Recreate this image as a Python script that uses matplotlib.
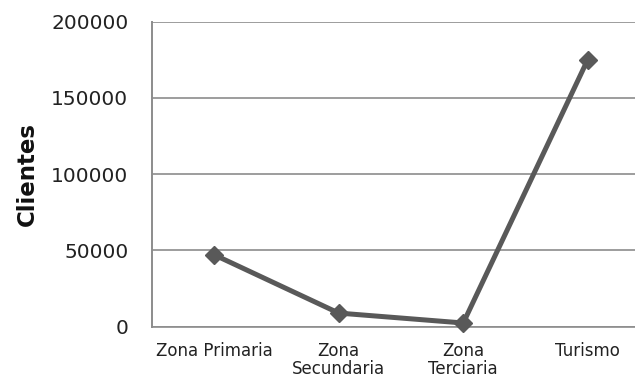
import matplotlib.pyplot as plt

zonas = ['Zona Primaria', 'Zona\nSecundaria', 'Zona\nTerciaria', 'Turismo']
clientes = [47000, 8800, 2300, 175000]
yticks = [0, 50000, 100000, 150000, 200000]

gris_linea = '#595959'
gris_rejilla = '#8c8c8c'

fig = plt.figure(figsize=(6.35, 3.84), dpi=100)
# the plot area runs past the right edge of the canvas
ax = fig.add_axes([152 / 635, 1 - 326.5 / 384, 498 / 635, 305 / 384])

xpos = range(len(zonas))
ax.plot(xpos, clientes, '-D', color=gris_linea, lw=3.6, ms=9.5,
        mfc=gris_linea, mec=gris_linea, clip_on=False, zorder=3)

ax.set_xlim(-0.5, len(zonas) - 0.5)
ax.set_ylim(0, 200000)
ax.set_yticks(yticks)
ax.set_yticklabels([str(v) for v in yticks])
ax.set_xticks(list(xpos))
ax.set_xticklabels(zonas, fontsize=12, linespacing=1.0)
ax.tick_params(axis='y', labelsize=14.5, length=0, pad=17, colors='#222222')
ax.tick_params(axis='x', length=0, pad=11, colors='#222222')

ax.grid(True, axis='y', color=gris_rejilla, lw=1.2)
ax.set_axisbelow(True)
for lado in ['top', 'right']:
    ax.spines[lado].set_visible(False)
ax.spines['left'].set_color(gris_rejilla)
ax.spines['bottom'].set_color(gris_rejilla)
ax.spines['left'].set_linewidth(1.4)
ax.spines['bottom'].set_linewidth(1.2)

ax.set_ylabel('Clientes', fontsize=16.5, fontweight='bold', color='#111111')
ax.yaxis.set_label_coords(-0.227, 0.5)

fig.savefig('out.png', dpi=100)
